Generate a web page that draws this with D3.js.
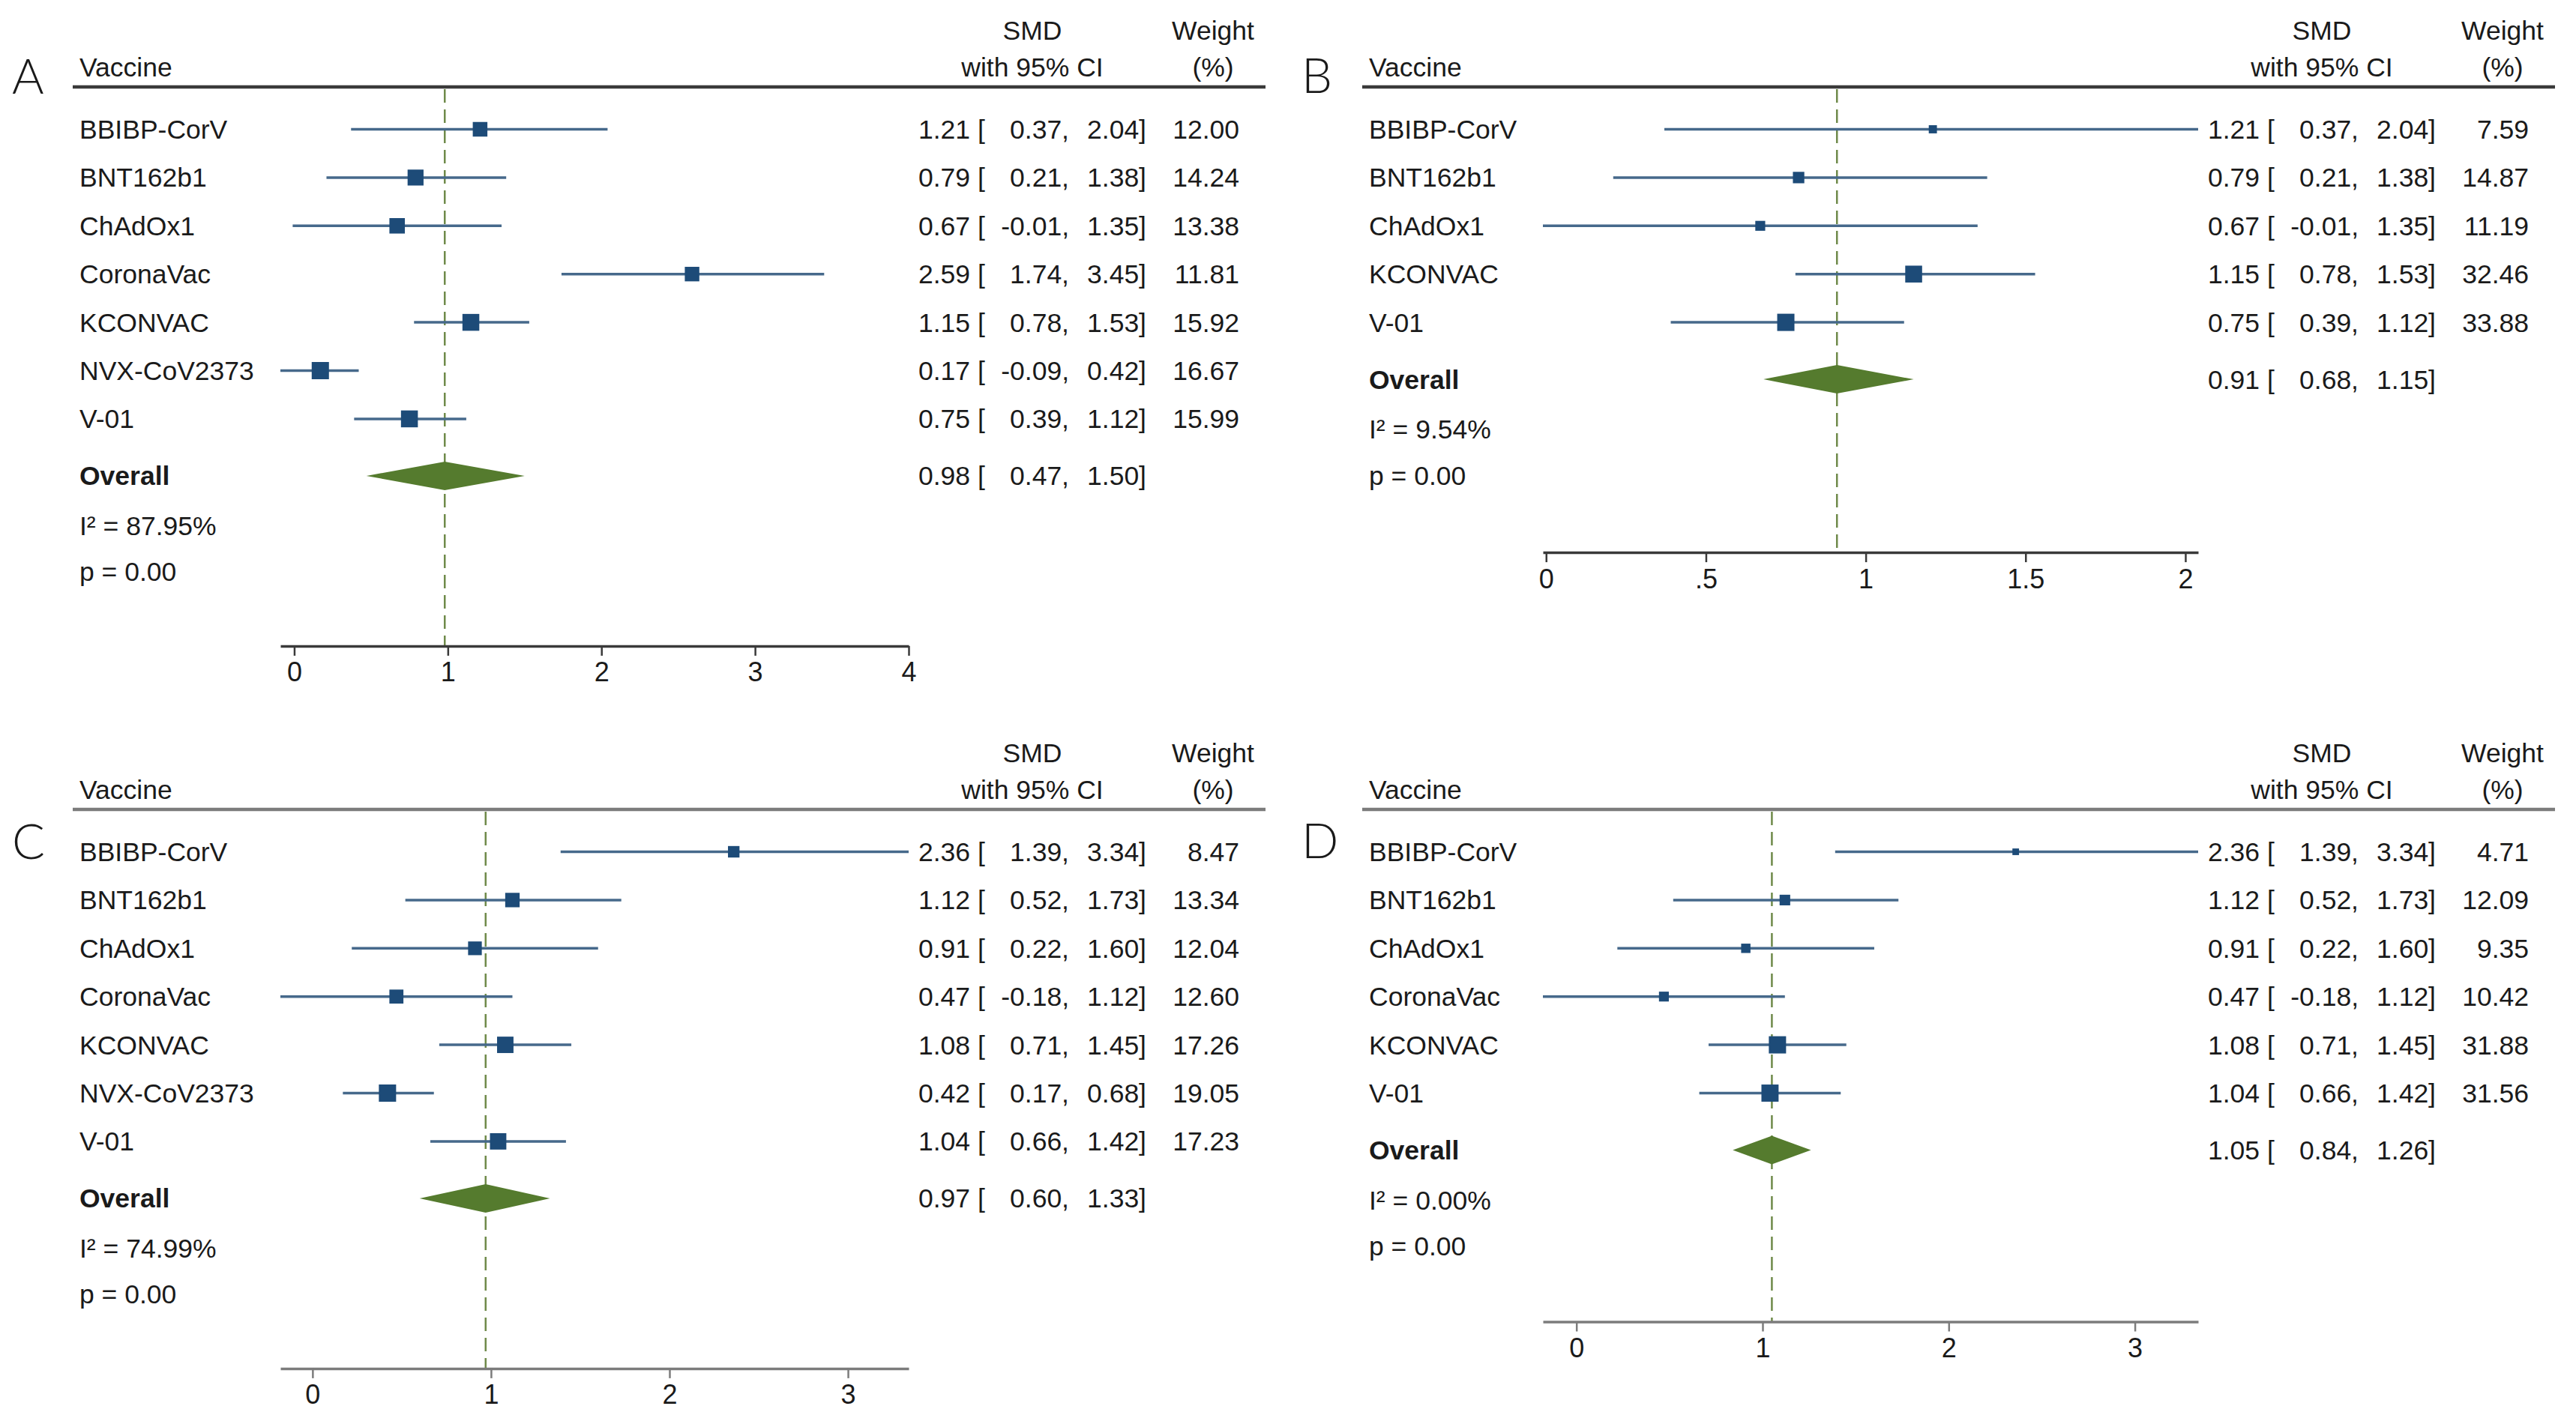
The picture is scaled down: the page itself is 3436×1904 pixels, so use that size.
<!DOCTYPE html>
<html>
<head>
<meta charset="utf-8">
<title>Forest plots: SMD by vaccine</title>
<script src="https://cdn.jsdelivr.net/npm/d3@7"></script>
<style>
	body { margin: 0; background: #fff; }
	text { font-family: "Liberation Sans", Arial, Helvetica, sans-serif; fill: #1a1a1a; }
	.letter { font-family: Lato, "Liberation Sans", sans-serif; font-weight: 300; font-size: 65px; }
	.ci { stroke: #46698b; stroke-width: 3.5; }
	.box { fill: #1d4b78; }
	.diamond { fill: #557b2e; }
	.ref { stroke: #6f8a4a; stroke-width: 2.5; stroke-dasharray: 18 9; fill: none; }
</style>
</head>
<body>
<div id="chart"></div>
<script>
// panel A
var namesA = ["BBIBP-CorV", "BNT162b1", "ChAdOx1", "CoronaVac", "KCONVAC", "NVX-CoV2373", "V-01"];
var smdA = [1.21, 0.79, 0.67, 2.59, 1.15, 0.17, 0.75];
var lowA = [0.37, 0.21, -0.01, 1.74, 0.78, -0.09, 0.39];
var highA = [2.04, 1.38, 1.35, 3.45, 1.53, 0.42, 1.12];
var weightA = [12.00, 14.24, 13.38, 11.81, 15.92, 16.67, 15.99];
var overallA = [0.98, 0.47, 1.50];
var statsA = ["87.95%", "0.00"];
var ticksA = [0, 1, 2, 3, 4];
var tickLabelsA = ["0", "1", "2", "3", "4"];

// panel B
var namesB = ["BBIBP-CorV", "BNT162b1", "ChAdOx1", "KCONVAC", "V-01"];
var smdB = [1.21, 0.79, 0.67, 1.15, 0.75];
var lowB = [0.37, 0.21, -0.01, 0.78, 0.39];
var highB = [2.04, 1.38, 1.35, 1.53, 1.12];
var weightB = [7.59, 14.87, 11.19, 32.46, 33.88];
var overallB = [0.91, 0.68, 1.15];
var statsB = ["9.54%", "0.00"];
var ticksB = [0, 0.5, 1, 1.5, 2];
var tickLabelsB = ["0", ".5", "1", "1.5", "2"];

// panel C
var namesC = ["BBIBP-CorV", "BNT162b1", "ChAdOx1", "CoronaVac", "KCONVAC", "NVX-CoV2373", "V-01"];
var smdC = [2.36, 1.12, 0.91, 0.47, 1.08, 0.42, 1.04];
var lowC = [1.39, 0.52, 0.22, -0.18, 0.71, 0.17, 0.66];
var highC = [3.34, 1.73, 1.60, 1.12, 1.45, 0.68, 1.42];
var weightC = [8.47, 13.34, 12.04, 12.60, 17.26, 19.05, 17.23];
var overallC = [0.97, 0.60, 1.33];
var statsC = ["74.99%", "0.00"];
var ticksC = [0, 1, 2, 3];
var tickLabelsC = ["0", "1", "2", "3"];

// panel D
var namesD = ["BBIBP-CorV", "BNT162b1", "ChAdOx1", "CoronaVac", "KCONVAC", "V-01"];
var smdD = [2.36, 1.12, 0.91, 0.47, 1.08, 1.04];
var lowD = [1.39, 0.52, 0.22, -0.18, 0.71, 0.66];
var highD = [3.34, 1.73, 1.60, 1.12, 1.45, 1.42];
var weightD = [4.71, 12.09, 9.35, 10.42, 31.88, 31.56];
var overallD = [1.05, 0.84, 1.26];
var statsD = ["0.00%", "0.00"];
var ticksD = [0, 1, 2, 3];
var tickLabelsD = ["0", "1", "2", "3"];

var svg_width = 3436;
var svg_height = 1904;
var fontSize = 35.5;
var capHalf = 12.5;
function f2(v) { return v.toFixed(2); } // plain hyphen for negatives, like the original

var svg = d3.select("#chart")
	.append("svg")
	.attr("width", svg_width)
	.attr("height", svg_height);

var panels = [
	{letter: "A", ox: 0, oy: 0, left: 374, letterY: 125, axisShift: 0, rule: "#3a3a3a",
	 names: namesA, smd: smdA, low: lowA, high: highA, weight: weightA, overall: overallA, stats: statsA, ticks: ticksA, tickLabels: tickLabelsA},
	{letter: "B", ox: 1720, oy: 0, left: 338, letterY: 124, axisShift: 4, rule: "#3a3a3a",
	 names: namesB, smd: smdB, low: lowB, high: highB, weight: weightB, overall: overallB, stats: statsB, ticks: ticksB, tickLabels: tickLabelsB},
	{letter: "C", ox: 0, oy: 964, left: 374, letterY: 182, axisShift: 0, rule: "#7c7c7c",
	 names: namesC, smd: smdC, low: lowC, high: highC, weight: weightC, overall: overallC, stats: statsC, ticks: ticksC, tickLabels: tickLabelsC},
	{letter: "D", ox: 1720, oy: 964, left: 338, letterY: 181, axisShift: 2, rule: "#7c7c7c",
	 names: namesD, smd: smdD, low: lowD, high: highD, weight: weightD, overall: overallD, stats: statsD, ticks: ticksD, tickLabels: tickLabelsD}
];

panels.forEach(drawPanel);

function drawPanel(p) {
	var g = svg.append("g")
		.attr("transform", "translate(" + p.ox + "," + p.oy + ")");
	var n = p.names.length;

	// row positions
	var y = d3.scaleLinear().domain([0, 1]).range([172.5, 236.9]);
	var yOverall = y(n - 1) + 76;
	var yI2 = yOverall + 66.5;
	var yP = yOverall + 128;
	var yAxis = yOverall + 227 + p.axisShift;

	var lo = Math.min(d3.min(p.low), p.overall[1], p.ticks[0]);
	var hi = Math.max(d3.max(p.high), p.overall[2], p.ticks[p.ticks.length - 1]);
	var x = d3.scaleLinear().domain([lo, hi]).range([p.left, 1212]);

	var wmax = d3.max(p.weight);
	var rows = p.names.map(function(name, i) {
		return {name: name, smd: p.smd[i], low: p.low[i], high: p.high[i], weight: p.weight[i], y: y(i)};
	});

	// panel letter
	g.append("text")
		.attr("class", "letter")
		.attr("x", 16)
		.attr("y", p.letterY)
		.text(p.letter);

	// header
	var head = g.append("g").style("font-size", fontSize + "px");
	head.append("text").attr("x", 106).attr("y", 101.7).text("Vaccine");
	head.append("text").attr("x", 1377).attr("y", 52.5).attr("text-anchor", "middle").text("SMD");
	head.append("text").attr("x", 1377).attr("y", 101.7).attr("text-anchor", "middle").text("with 95% CI");
	head.append("text").attr("x", 1618).attr("y", 52.5).attr("text-anchor", "middle").text("Weight");
	head.append("text").attr("x", 1618).attr("y", 101.7).attr("text-anchor", "middle").text("(%)");
	g.append("line")
		.attr("x1", 97).attr("x2", 1688)
		.attr("y1", 116).attr("y2", 116)
		.attr("stroke", p.rule)
		.attr("stroke-width", 4.5);

	// reference line at the overall estimate
	g.append("line")
		.attr("class", "ref")
		.attr("x1", x(p.overall[0])).attr("x2", x(p.overall[0]))
		.attr("y1", 119).attr("y2", yAxis);

	// confidence intervals and boxes
	g.selectAll(".ci")
		.data(rows)
		.enter().append("line")
		.attr("class", "ci")
		.attr("x1", function(d) { return x(d.low); })
		.attr("x2", function(d) { return x(d.high); })
		.attr("y1", function(d) { return d.y; })
		.attr("y2", function(d) { return d.y; });

	g.selectAll(".box")
		.data(rows)
		.enter().append("rect")
		.attr("class", "box")
		.attr("width", function(d) { return 23 * Math.sqrt(d.weight / wmax); })
		.attr("height", function(d) { return 23 * Math.sqrt(d.weight / wmax); })
		.attr("x", function(d) { return x(d.smd) - 11.5 * Math.sqrt(d.weight / wmax); })
		.attr("y", function(d) { return d.y - 11.5 * Math.sqrt(d.weight / wmax); });

	// overall diamond
	var o = p.overall;
	g.append("polygon")
		.attr("class", "diamond")
		.attr("points", [
			[x(o[1]), yOverall], [x(o[0]), yOverall - 19],
			[x(o[2]), yOverall], [x(o[0]), yOverall + 19]
		].join(" "));

	// text columns
	var txt = g.append("g").style("font-size", fontSize + "px");
	var lines = txt.selectAll(".row")
		.data(rows)
		.enter().append("g")
		.attr("class", "row")
		.attr("transform", function(d) { return "translate(0," + (d.y + capHalf) + ")"; });
	lines.append("text").attr("x", 106).text(function(d) { return d.name; });
	lines.append("text").attr("x", 1294).attr("text-anchor", "end").text(function(d) { return f2(d.smd); });
	lines.append("text").attr("x", 1304).text("[");
	lines.append("text").attr("x", 1426).attr("text-anchor", "end").text(function(d) { return f2(d.low) + ","; });
	lines.append("text").attr("x", 1529).attr("text-anchor", "end").text(function(d) { return f2(d.high) + "]"; });
	lines.append("text").attr("x", 1653).attr("text-anchor", "end").text(function(d) { return f2(d.weight); });

	var ov = txt.append("g").attr("transform", "translate(0," + (yOverall + capHalf) + ")");
	ov.append("text").attr("x", 106).style("font-weight", "bold").text("Overall");
	ov.append("text").attr("x", 1294).attr("text-anchor", "end").text(f2(o[0]));
	ov.append("text").attr("x", 1304).text("[");
	ov.append("text").attr("x", 1426).attr("text-anchor", "end").text(f2(o[1]) + ",");
	ov.append("text").attr("x", 1529).attr("text-anchor", "end").text(f2(o[2]) + "]");

	txt.append("text").attr("x", 106).attr("y", yI2 + capHalf).text("I\u00b2 = " + p.stats[0]);
	txt.append("text").attr("x", 106).attr("y", yP + capHalf).text("p = " + p.stats[1]);

	// x axis
	var axis = g.append("g")
		.attr("transform", "translate(0," + yAxis + ")")
		.call(d3.axisBottom(x)
			.tickValues(p.ticks)
			.tickFormat(function(d, i) { return p.tickLabels[i]; })
			.tickSize(13)
			.tickSizeOuter(0)
			.tickPadding(9));
	axis.attr("font-family", null).attr("font-size", null);
	axis.select(".domain").attr("stroke", p.rule).attr("stroke-width", 3.5);
	axis.selectAll(".tick line").attr("stroke", p.rule).attr("stroke-width", 2.5);
	axis.selectAll(".tick text").style("font-size", "36px").attr("fill", "#1a1a1a");
}
</script>
</body>
</html>
